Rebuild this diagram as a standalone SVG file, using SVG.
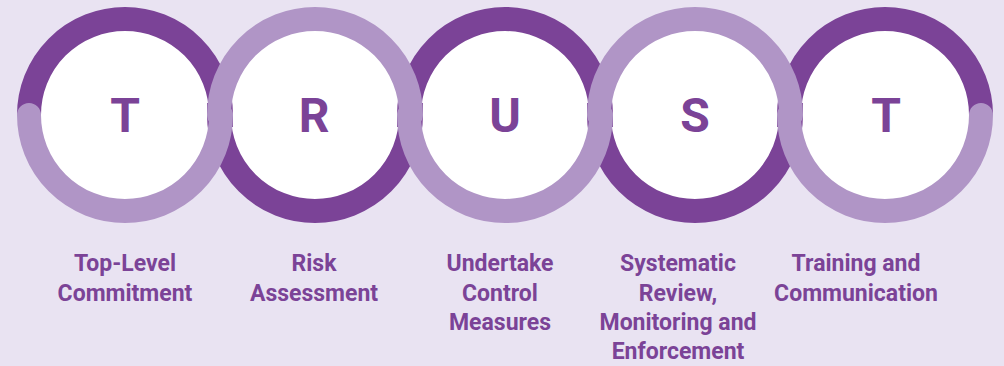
<svg xmlns="http://www.w3.org/2000/svg" width="1004" height="366" viewBox="0 0 1004 366">
  <style>
    .disc { fill: #ffffff; }
    .band { fill: none; stroke-width: 24; }
    .dark { stroke: #7b4397; stroke-linecap: butt; }
    .light { stroke: #b095c6; stroke-linecap: round; stroke-linejoin: round; }
    .letter { font-family: Roboto, "Liberation Sans", sans-serif; font-weight: 700; font-size: 48px; fill: #7b4397; text-anchor: middle; }
    .label { font-family: Roboto, "Liberation Sans", sans-serif; font-weight: 700; font-size: 23px; fill: #7b4397; text-anchor: middle; }
  </style>
  <rect width="1004" height="366" fill="#e9e3f2"/>

  <!-- white centres of the five rings -->
  <g id="discs">
    <circle class="disc" cx="125" cy="115" r="96"/>
    <circle class="disc" cx="315" cy="115" r="96"/>
    <circle class="disc" cx="505" cy="115" r="96"/>
    <circle class="disc" cx="695" cy="115" r="96"/>
    <circle class="disc" cx="885" cy="115" r="96"/>
  </g>

  <!-- interlaced bands: dark wave underneath, light wave on top -->
  <g id="connectors">
    <path class="band dark" d="M29 115 A96 96 0 0 1 221 115 L219 115 A96 96 0 0 0 411 115 L409 115 A96 96 0 0 1 601 115 L599 115 A96 96 0 0 0 791 115 L789 115 A96 96 0 0 1 981 115"/>
    <path class="band light" d="M29 115 A96 96 0 0 0 221 115 L219 115 A96 96 0 0 1 411 115 L409 115 A96 96 0 0 0 601 115 L599 115 A96 96 0 0 1 791 115 L789 115 A96 96 0 0 0 981 115"/>
  </g>

  <g id="node-t1">
    <text class="letter" x="125" y="132">T</text>
    <text class="label" x="125" y="271">Top-Level</text>
    <text class="label" x="125" y="300.5">Commitment</text>
  </g>
  <g id="node-r">
    <text class="letter" x="314" y="132">R</text>
    <text class="label" x="314" y="271">Risk</text>
    <text class="label" x="314" y="300.5">Assessment</text>
  </g>
  <g id="node-u">
    <text class="letter" x="505" y="132">U</text>
    <text class="label" x="500" y="271">Undertake</text>
    <text class="label" x="500" y="300.5">Control</text>
    <text class="label" x="500" y="330">Measures</text>
  </g>
  <g id="node-s">
    <text class="letter" x="695" y="132">S</text>
    <text class="label" x="678" y="271">Systematic</text>
    <text class="label" x="678" y="300.5">Review,</text>
    <text class="label" x="678" y="330">Monitoring and</text>
    <text class="label" x="678" y="359">Enforcement</text>
  </g>
  <g id="node-t2">
    <text class="letter" x="886" y="132">T</text>
    <text class="label" x="856" y="271">Training and</text>
    <text class="label" x="856" y="300.5">Communication</text>
  </g>
</svg>
